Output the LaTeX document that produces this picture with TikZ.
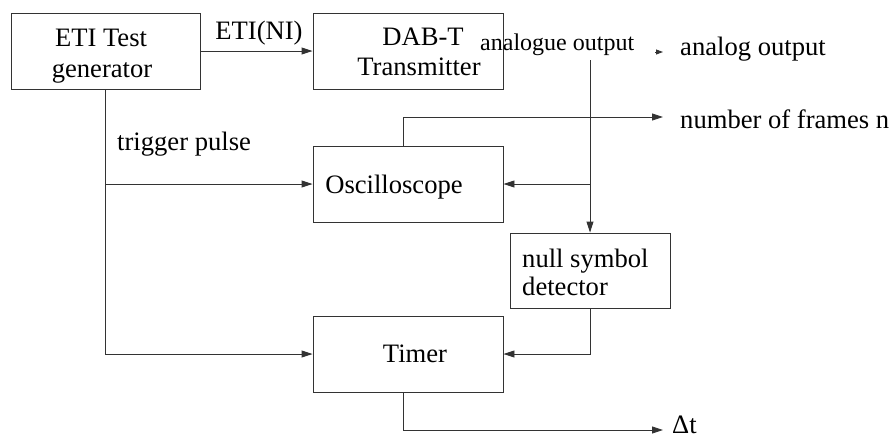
\documentclass[tikz,border=0pt]{standalone}
\usepackage{fontspec}
\setmainfont{Liberation Serif}
\usetikzlibrary{arrows.meta}
\begin{document}
\begin{tikzpicture}[x=1pt,y=-1pt,
  box/.style={draw=black!80,line width=0.9pt,rectangle,inner sep=0pt},
  lbl/.style={inner sep=0pt,font=\fontsize{26.6}{31}\selectfont},
  smalllbl/.style={inner sep=0pt,font=\fontsize{24}{28}\selectfont},
  conn/.style={draw=black!80,line width=0.9pt},
  arr/.style={conn,-{Triangle[length=11pt,width=7pt]}},
  tinyarr/.style={conn,-{Triangle[length=7pt,width=5pt]}}]
\path[use as bounding box] (0,0) rectangle (892,437);
% boxes
\node[box,minimum width=189pt,minimum height=76pt] (gen) at (105.5,51) {};
\node[box,minimum width=190pt,minimum height=76pt] (tx) at (408,51) {};
\node[box,minimum width=190pt,minimum height=76pt] (osc) at (408,184) {};
\node[box,minimum width=190pt,minimum height=76pt] (timer) at (408,354) {};
\node[box,minimum width=160pt,minimum height=75pt] (null) at (590,270.5) {};
% box texts
\node[lbl,anchor=base] (gen1) at (101,46) {ETI Test};
\node[lbl,anchor=base] (gen2) at (102,77) {generator};
\node[lbl,anchor=base] (tx1) at (423,45) {DAB-T};
\node[lbl,anchor=base] (tx2) at (419,75) {Transmitter};
\node[lbl,anchor=base] (osct) at (394,193) {Oscilloscope};
\node[lbl,anchor=base] (timt) at (415,362) {Timer};
\node[lbl,anchor=base west] (null1) at (522,267) {null symbol};
\node[lbl,anchor=base west] (null2) at (522,295) {detector};
% labels
\node[lbl,anchor=base] (eti) at (259,39) {ETI(NI)};
\node[lbl,anchor=base west] (trig) at (117,150) {trigger pulse};
\node[smalllbl,anchor=base west] (aoutl) at (480,50) {analogue output};
\node[lbl,anchor=base west] (aol) at (680,55) {analog output};
\node[lbl,anchor=base west] (nfl) at (680,128) {number of frames n};
\node[lbl,anchor=base west] (dtl) at (672,433) {Δt};
% free ends
\coordinate (aout) at (590,60);
\coordinate (ta1) at (655,52);
\coordinate (ta2) at (663,52);
\coordinate (nf) at (663,117);
\coordinate (dt) at (663,430);
% connectors
\draw[arr] (gen.east) -- (tx.west);
\draw[arr] (gen.south) |- (timer.west);
\draw[arr] (gen.south |- osc.west) -- (osc.west);
\draw[arr] (aout) -- (null.north);
\draw[arr] (aout |- osc.east) -- (osc.east);
\draw[arr] ([xshift=-5pt]osc.north) |- (nf);
\draw[arr] (null.south) |- (timer.east);
\draw[arr] ([xshift=-5pt]timer.south) |- (dt);
\draw[tinyarr] (ta1) -- (ta2);
\end{tikzpicture}
\end{document}
